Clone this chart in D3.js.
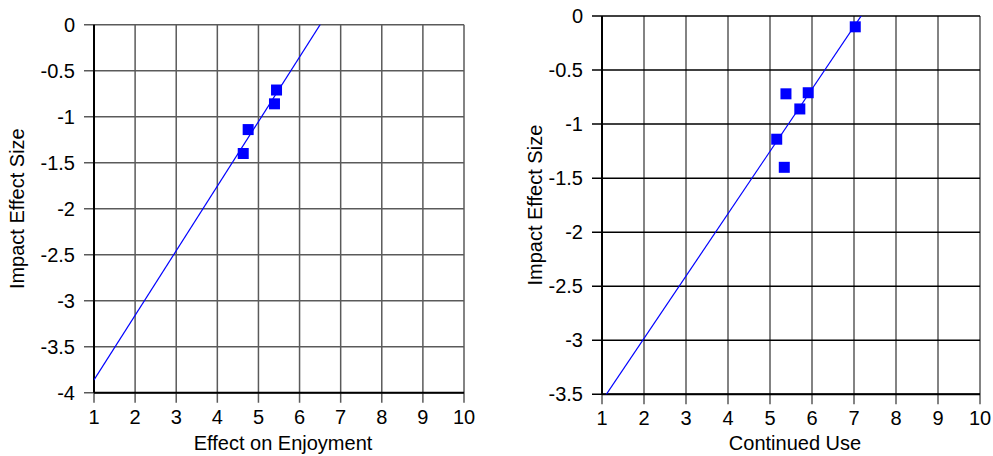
<!DOCTYPE html>
<html>
<head>
<meta charset="utf-8">
<script src="https://cdn.jsdelivr.net/npm/d3@7"></script>
<style>
  body { margin: 0; background: #fff; }
  text { font-family: "Liberation Sans", Arial, sans-serif; }
</style>
</head>
<body>
<div id="chart"></div>
<script>
// left panel data
const enjoyX = [4.63, 4.75, 5.39, 5.44]
const enjoyY = [-1.40, -1.14, -0.86, -0.71]
const enjoyFit = [0.702, -4.563]   // slope, intercept
const enjoyYTicks = [0, -0.5, -1, -1.5, -2, -2.5, -3, -3.5, -4]

// right panel data
const useX = [7.03, 5.38, 5.91, 5.71, 5.16, 5.34]
const useY = [-0.10, -0.72, -0.71, -0.86, -1.14, -1.40]
const useFit = [0.577, -4.137]
const useYTicks = [0, -0.5, -1, -1.5, -2, -2.5, -3, -3.5]

const xTicks = [1, 2, 3, 4, 5, 6, 7, 8, 9, 10]

const width = 993
const height = 456
const fontSize = 20

const svg = d3.select('#chart')
  .append('svg')
  .attr('width', width)
  .attr('height', height)

function drawPanel(opts) {
  const x = d3.scaleLinear().domain([1, 10]).range([opts.left, opts.right])
  const y = d3.scaleLinear().domain(opts.yDomain).range([opts.bottom, opts.top])

  const g = svg.append('g')

  // vertical grid
  g.append('g')
    .selectAll('line')
    .data(xTicks)
    .enter()
    .append('line')
    .attr('x1', d => x(d)).attr('x2', d => x(d))
    .attr('y1', opts.top).attr('y2', opts.bottom + 10)
    .attr('stroke', '#5a5a5a')
    .attr('stroke-width', 1.5)

  // horizontal grid
  g.append('g')
    .selectAll('line')
    .data(opts.yTicks)
    .enter()
    .append('line')
    .attr('x1', opts.left - 10).attr('x2', opts.right)
    .attr('y1', d => y(d)).attr('y2', d => y(d))
    .attr('stroke', opts.hColor)
    .attr('stroke-width', 1.5)

  // axes frame
  g.append('line')
    .attr('x1', opts.left).attr('x2', opts.left)
    .attr('y1', opts.top).attr('y2', opts.bottom)
    .attr('stroke', '#000').attr('stroke-width', 2)
  g.append('line')
    .attr('x1', opts.left).attr('x2', opts.right)
    .attr('y1', opts.bottom).attr('y2', opts.bottom)
    .attr('stroke', '#000').attr('stroke-width', 2)

  // tick labels
  g.append('g')
    .selectAll('text')
    .data(xTicks)
    .enter()
    .append('text')
    .attr('x', d => x(d))
    .attr('y', opts.bottom + 31)
    .attr('text-anchor', 'middle')
    .attr('font-size', fontSize)
    .text(d => d)

  g.append('g')
    .selectAll('text')
    .data(opts.yTicks)
    .enter()
    .append('text')
    .attr('x', opts.left - 19)
    .attr('y', d => y(d))
    .attr('dy', '0.35em')
    .attr('text-anchor', 'end')
    .attr('font-size', fontSize)
    .text(d => d)

  // titles
  g.append('text')
    .attr('x', (opts.left + opts.right) / 2 + 4)
    .attr('y', 450)
    .attr('text-anchor', 'middle')
    .attr('font-size', fontSize)
    .text(opts.xTitle)

  g.append('text')
    .attr('transform', 'translate(' + opts.yTitleX + ',' + ((opts.top + opts.bottom) / 2) + ') rotate(-90)')
    .attr('text-anchor', 'middle')
    .attr('dy', '0.35em')
    .attr('font-size', fontSize)
    .text('Impact Effect Size')

  // regression line, clipped to plot area
  const clipId = 'clip' + opts.id
  svg.append('clipPath').attr('id', clipId)
    .append('rect')
    .attr('x', opts.left).attr('y', opts.top)
    .attr('width', opts.right - opts.left).attr('height', opts.bottom - opts.top)

  const fx = [1, 10]
  g.append('line')
    .attr('clip-path', 'url(#' + clipId + ')')
    .attr('x1', x(fx[0])).attr('y1', y(opts.fit[0] * fx[0] + opts.fit[1]))
    .attr('x2', x(fx[1])).attr('y2', y(opts.fit[0] * fx[1] + opts.fit[1]))
    .attr('stroke', '#0000ff')
    .attr('stroke-width', 1.2)

  // points
  const s = 11
  g.append('g')
    .selectAll('rect')
    .data(opts.xs)
    .enter()
    .append('rect')
    .attr('x', (d, i) => x(d) - s / 2)
    .attr('y', (d, i) => y(opts.ys[i]) - s / 2)
    .attr('width', s)
    .attr('height', s)
    .attr('fill', '#0000ff')
}

drawPanel({
  id: 'a', left: 94, right: 464, top: 24.7, bottom: 392.7,
  yDomain: [-4, 0], yTicks: enjoyYTicks, hColor: '#5a5a5a',
  xs: enjoyX, ys: enjoyY, fit: enjoyFit,
  xTitle: 'Effect on Enjoyment', yTitleX: 17
})

drawPanel({
  id: 'b', left: 602, right: 980, top: 16, bottom: 394.3,
  yDomain: [-3.5, 0], yTicks: useYTicks, hColor: '#000',
  xs: useX, ys: useY, fit: useFit,
  xTitle: 'Continued Use', yTitleX: 535
})
</script>
</body>
</html>
